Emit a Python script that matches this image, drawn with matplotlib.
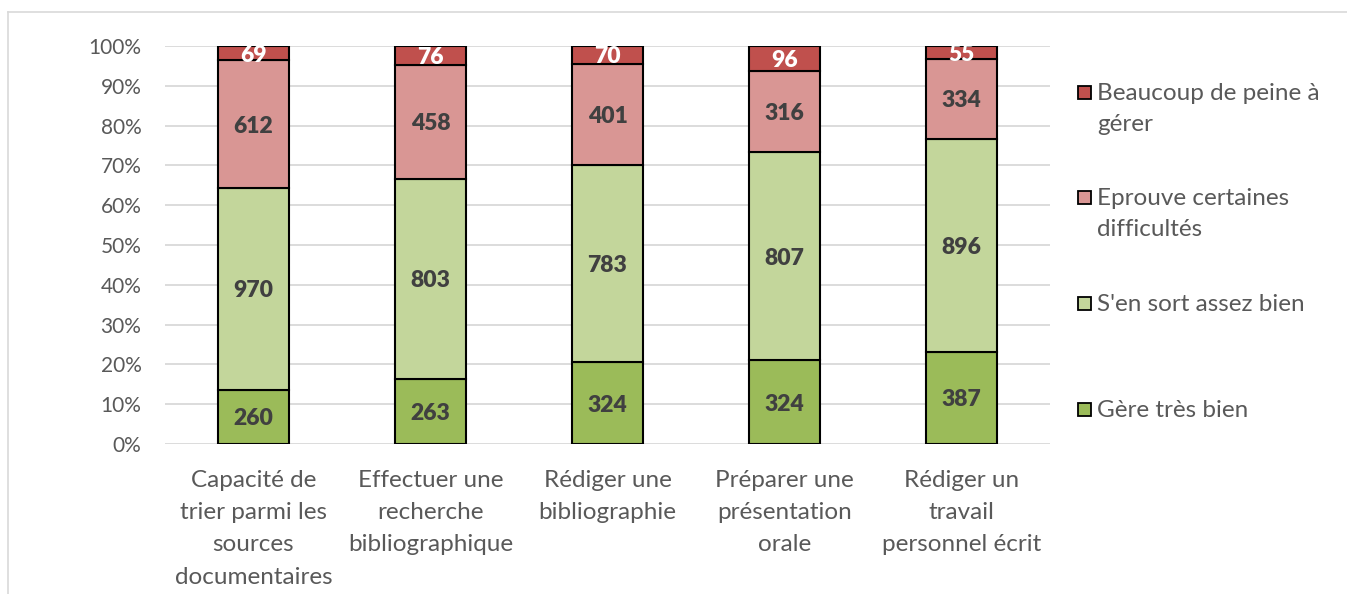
import matplotlib.pyplot as plt
import numpy as np
from matplotlib.patches import Rectangle

categories = [
    "Capacité de\ntrier parmi les\nsources\ndocumentaires",
    "Effectuer une\nrecherche\nbibliographique",
    "Rédiger une\nbibliographie",
    "Préparer une\nprésentation\norale",
    "Rédiger un\ntravail\npersonnel écrit",
]
series_names = [
    "Gère très bien",
    "S'en sort assez bien",
    "Eprouve certaines\ndifficultés",
    "Beaucoup de peine à\ngérer",
]
gere_tres_bien = [260, 263, 324, 324, 387]
sen_sort = [970, 803, 783, 807, 896]
difficultes = [612, 458, 401, 316, 334]
beaucoup_peine = [69, 76, 70, 96, 55]

colors = ["#9BBB59", "#C3D69B", "#D99694", "#C0504D"]
label_colors = ["#404040", "#404040", "#404040", "white"]
tick_color = "#595959"

plt.rcParams["font.family"] = ["Lato", "DejaVu Sans"]

data = np.array([gere_tres_bien, sen_sort, difficultes, beaucoup_peine], dtype=float)
totals = data.sum(axis=0)
pct = data / totals

fig = plt.figure(figsize=(13.47, 5.94), dpi=100)
ax = fig.add_axes([165 / 1347, 1 - 444 / 594, (1050 - 165) / 1347, (444 - 46) / 594])

x = np.arange(len(categories))
bottom = np.zeros(len(categories))
for i, name in enumerate(series_names):
    ax.bar(x, pct[i], 0.4, bottom=bottom, color=colors[i], edgecolor="black",
           linewidth=1.5, zorder=3, label=name)
    for j in range(len(categories)):
        ax.text(x[j], bottom[j] + pct[i][j] / 2, f"{int(data[i][j])}",
                ha="center", va="center_baseline", fontsize=16.5, fontweight="heavy",
                color=label_colors[i], zorder=4)
    bottom += pct[i]

ax.set_xlim(-0.5, 4.5)
ax.set_ylim(0, 1)
ax.set_yticks(np.arange(0, 1.01, 0.1))
ax.set_yticklabels([f"{int(round(v * 100))}%" for v in np.arange(0, 1.01, 0.1)])
ax.set_xticks(x)
ax.set_xticklabels(categories, linespacing=1.65)
ax.tick_params(axis="y", length=0, labelsize=15, colors=tick_color, pad=17)
ax.tick_params(axis="x", length=0, labelsize=17.5, colors=tick_color, pad=19)
ax.grid(axis="y", color="#D9D9D9", linewidth=1.3, zorder=0)
for s in ax.spines.values():
    s.set_visible(False)

# legend, drawn by hand so the square sits on the first line of the label
leg_y = [409, 303, 197, 92]
for i, name in enumerate(series_names):
    yf = 1 - leg_y[i] / 594
    fig.patches.append(Rectangle((1078 / 1347, yf - 7 / 594), 13 / 1347, 13 / 594,
                                 transform=fig.transFigure, facecolor=colors[i],
                                 edgecolor="black", linewidth=1.3))
    fig.text(1097 / 1347, yf + 9 / 594, name, ha="left", va="top", fontsize=17.5,
             color=tick_color, linespacing=1.6)

# outer chart frame
fig.add_artist(plt.Line2D([8 / 1347, 1], [1 - 12 / 594] * 2, color="#D9D9D9", linewidth=1.2))
fig.add_artist(plt.Line2D([8 / 1347] * 2, [0, 1 - 12 / 594], color="#D9D9D9", linewidth=1.2))

fig.savefig("out.png", dpi=100)
